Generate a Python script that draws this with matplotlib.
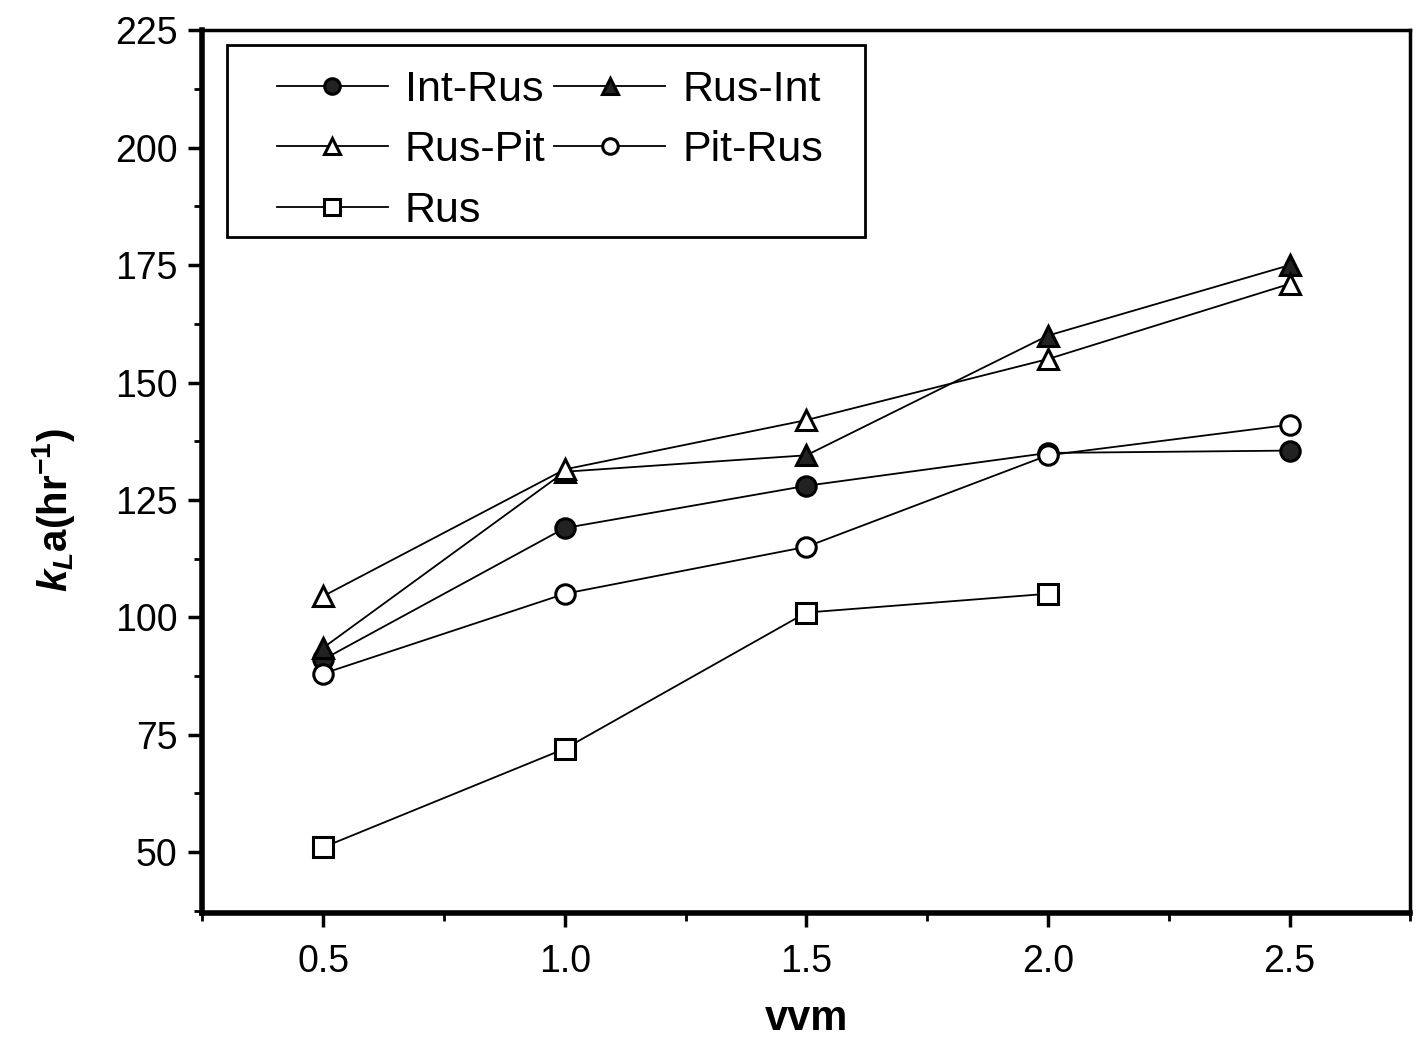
import matplotlib
matplotlib.use("Agg")
import matplotlib.pyplot as plt
from matplotlib.patches import Rectangle
from matplotlib.ticker import MultipleLocator

# Datos
vvm = [0.5, 1.0, 1.5, 2.0, 2.5]
vvm_rus = [0.5, 1.0, 1.5, 2.0]

int_rus = [91, 119, 128, 135, 135.5]
rus_int = [93.5, 131, 134.5, 160, 175]
rus_pit = [104.5, 131.5, 142, 155, 171]
pit_rus = [88, 105, 115, 134.5, 141]
rus = [51, 72, 101, 105]

plt.rcParams['font.family'] = ['Liberation Sans', 'DejaVu Sans']
plt.rcParams['mathtext.fontset'] = 'custom'
plt.rcParams['mathtext.rm'] = 'Liberation Sans:bold'
plt.rcParams['mathtext.it'] = 'Liberation Sans:bold:italic'

fig = plt.figure(figsize=(14.16, 10.5), dpi=100)
ax = fig.add_axes([0.143, 0.1305, 0.853, 0.8405])

estilo = dict(color='black', lw=1.3, markersize=14, markeredgewidth=2.2)
l1, = ax.plot(vvm, int_rus, marker='o', mfc='#222222', label='Int-Rus', **estilo)
l2, = ax.plot(vvm, rus_int, marker='^', mfc='#222222', label='Rus-Int', **estilo)
l3, = ax.plot(vvm, rus_pit, marker='^', mfc='white', label='Rus-Pit', **estilo)
l4, = ax.plot(vvm, pit_rus, marker='o', mfc='white', label='Pit-Rus', **estilo)
l5, = ax.plot(vvm_rus, rus, marker='s', mfc='white', label='Rus', **estilo)

ax.set_xlim(0.25, 2.75)
ax.set_ylim(37, 225)
ax.xaxis.set_major_locator(MultipleLocator(0.5))
ax.xaxis.set_minor_locator(MultipleLocator(0.25))
ax.yaxis.set_major_locator(MultipleLocator(25))
ax.yaxis.set_minor_locator(MultipleLocator(12.5))
ax.set_xticks([0.5, 1.0, 1.5, 2.0, 2.5])
ax.set_yticks([50, 75, 100, 125, 150, 175, 200, 225])

ax.tick_params(which='major', direction='out', length=10, width=2.5, labelsize=27, pad=8)
ax.tick_params(axis='x', which='major', pad=12)
ax.tick_params(which='minor', direction='out', length=6, width=2)
for lado in ['left', 'bottom']:
    ax.spines[lado].set_linewidth(4)
for lado in ['top', 'right']:
    ax.spines[lado].set_linewidth(2.5)

ax.set_xlabel('vvm', fontsize=30, fontweight='bold', labelpad=14)
ax.set_ylabel(r'$k_L$a(hr$^{-1}$)', fontsize=29, fontweight='bold')
ax.yaxis.set_label_coords(-0.104, 0.456)

# marco de la leyenda (más holgado a los lados que arriba/abajo)
marco = Rectangle((0.0207, 0.7656), 0.5278, 0.2174, transform=ax.transAxes,
                  facecolor='white', edgecolor='black', lw=2, zorder=4.9)
ax.add_patch(marco)

leg = ax.legend([l1, l3, l5, l2, l4], ['Int-Rus', 'Rus-Pit', 'Rus', 'Rus-Int', 'Pit-Rus'],
                ncol=2, loc='upper left', bbox_to_anchor=(0.0613, 0.955), borderaxespad=0,
                fontsize=31, frameon=False, handlelength=2.58, columnspacing=0.2,
                handletextpad=0.4, labelspacing=0.47, borderpad=0, markerscale=0.8)
leg.set_zorder(5)

fig.savefig('out.png', dpi=100)
